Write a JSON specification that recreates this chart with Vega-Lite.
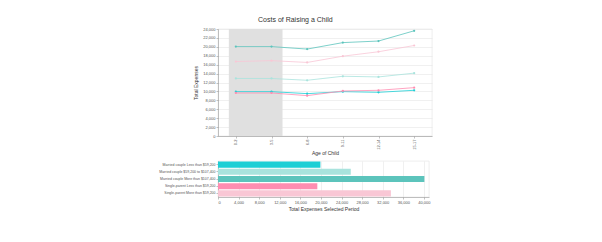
{
  "$schema": "https://vega.github.io/schema/vega-lite/v6.json",
  "background": "white",
  "padding": {"left": 158, "top": 15, "right": 5, "bottom": 5},
  "autosize": {"type": "pad"},
  "title": {"text": "Costs of Raising a Child", "fontSize": 7, "fontWeight": "normal", "color": "#333", "anchor": "middle", "offset": 4},
  "bounds": "flush",
  "spacing": 25,
  "config": {
    "font": "Liberation Sans",
    "view": {"stroke": "#e2e2e2", "strokeWidth": 0.6},
    "axis": {
      "labelFontSize": 4,
      "labelColor": "#555",
      "titleFontSize": 5,
      "titleFontWeight": "normal",
      "titleColor": "#333",
      "domainColor": "#999",
      "domainWidth": 0.6,
      "tickColor": "#999",
      "tickWidth": 0.6,
      "tickSize": 2,
      "labelPadding": 1,
      "gridColor": "#e6e6e6",
      "gridWidth": 0.6
    }
  },
  "datasets": {
    "costs": [
      {"age": "0-2", "group": "Married couple Less than $59,200", "cost": 9950},
      {"age": "3-5", "group": "Married couple Less than $59,200", "cost": 9950},
      {"age": "6-8", "group": "Married couple Less than $59,200", "cost": 9500},
      {"age": "9-11", "group": "Married couple Less than $59,200", "cost": 9950},
      {"age": "12-14", "group": "Married couple Less than $59,200", "cost": 9800},
      {"age": "15-17", "group": "Married couple Less than $59,200", "cost": 10250},
      {"age": "0-2", "group": "Married couple $59,200 to $107,400", "cost": 12900},
      {"age": "3-5", "group": "Married couple $59,200 to $107,400", "cost": 12900},
      {"age": "6-8", "group": "Married couple $59,200 to $107,400", "cost": 12500},
      {"age": "9-11", "group": "Married couple $59,200 to $107,400", "cost": 13400},
      {"age": "12-14", "group": "Married couple $59,200 to $107,400", "cost": 13250},
      {"age": "15-17", "group": "Married couple $59,200 to $107,400", "cost": 14100},
      {"age": "0-2", "group": "Married couple More than $107,400", "cost": 20050},
      {"age": "3-5", "group": "Married couple More than $107,400", "cost": 20050},
      {"age": "6-8", "group": "Married couple More than $107,400", "cost": 19500},
      {"age": "9-11", "group": "Married couple More than $107,400", "cost": 20950},
      {"age": "12-14", "group": "Married couple More than $107,400", "cost": 21300},
      {"age": "15-17", "group": "Married couple More than $107,400", "cost": 23600},
      {"age": "0-2", "group": "Single-parent Less than $59,200", "cost": 9650},
      {"age": "3-5", "group": "Single-parent Less than $59,200", "cost": 9650},
      {"age": "6-8", "group": "Single-parent Less than $59,200", "cost": 9050},
      {"age": "9-11", "group": "Single-parent Less than $59,200", "cost": 10100},
      {"age": "12-14", "group": "Single-parent Less than $59,200", "cost": 10250},
      {"age": "15-17", "group": "Single-parent Less than $59,200", "cost": 10850},
      {"age": "0-2", "group": "Single-parent More than $59,200", "cost": 16700},
      {"age": "3-5", "group": "Single-parent More than $59,200", "cost": 16900},
      {"age": "6-8", "group": "Single-parent More than $59,200", "cost": 16500},
      {"age": "9-11", "group": "Single-parent More than $59,200", "cost": 17900},
      {"age": "12-14", "group": "Single-parent More than $59,200", "cost": 18900},
      {"age": "15-17", "group": "Single-parent More than $59,200", "cost": 20300}
    ],
    "brush": [{"from": "0-2", "to": "3-5"}]
  },
  "vconcat": [
    {
      "width": 214,
      "height": 107,
      "layer": [
        {
          "data": {"name": "brush"},
          "mark": {"type": "rect", "color": "#e0e0e0", "xOffset": -7, "x2Offset": 11},
          "encoding": {
            "x": {"field": "from", "type": "ordinal", "title": "Age of Child"},
            "x2": {"field": "to"}
          }
        },
        {
          "data": {"name": "costs"},
          "mark": {"type": "line", "strokeWidth": 0.8, "point": {"filled": true, "size": 5}},
          "encoding": {
            "x": {
              "field": "age", "type": "ordinal", "title": "Age of Child",
              "scale": {"type": "point", "domain": ["0-2", "3-5", "6-8", "9-11", "12-14", "15-17"], "padding": 0.5},
              "axis": {"labelAngle": -90, "titlePadding": 1, "grid": false}
            },
            "y": {
              "field": "cost", "type": "quantitative", "title": "Total Expenses",
              "scale": {"domain": [0, 24000], "nice": false},
              "axis": {"values": [0, 2000, 4000, 6000, 8000, 10000, 12000, 14000, 16000, 18000, 20000, 22000, 24000], "format": ",.0f", "titlePadding": 4}
            },
            "color": {
              "field": "group", "type": "nominal", "legend": null,
              "scale": {
                "domain": ["Married couple Less than $59,200", "Married couple $59,200 to $107,400", "Married couple More than $107,400", "Single-parent Less than $59,200", "Single-parent More than $59,200"],
                "range": ["#1ccfd5", "#a9e3dd", "#5cc4bc", "#ff8db1", "#f9c7d5"]
              }
            }
          }
        }
      ]
    },
    {
      "width": 211,
      "height": 36,
      "data": {"name": "costs"},
      "transform": [{"filter": {"field": "age", "oneOf": ["0-2", "3-5"]}}],
      "mark": {"type": "bar"},
      "encoding": {
        "y": {
          "field": "group", "type": "nominal", "title": null,
          "sort": ["Married couple Less than $59,200", "Married couple $59,200 to $107,400", "Married couple More than $107,400", "Single-parent Less than $59,200", "Single-parent More than $59,200"],
          "scale": {"paddingInner": 0.15, "paddingOuter": 0.08},
          "axis": {"labelFontSize": 3.5, "grid": false}
        },
        "x": {
          "aggregate": "sum", "field": "cost", "type": "quantitative", "title": "Total Expenses Selected Period",
          "scale": {"nice": false, "domain": [0, 41000]},
          "axis": {"values": [0, 4000, 8000, 12000, 16000, 20000, 24000, 28000, 32000, 36000, 40000], "format": ",.0f", "grid": true, "titlePadding": 2}
        },
        "color": {"field": "group", "type": "nominal", "legend": null}
      }
    }
  ]
}
